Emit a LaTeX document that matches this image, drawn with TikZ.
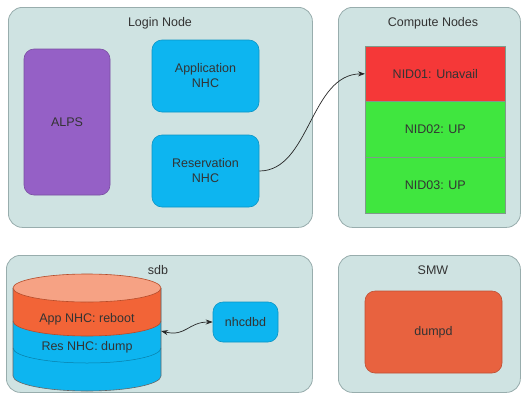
\documentclass[tikz,border=0pt]{standalone}
\usepackage{fontspec}
\setmainfont{Liberation Sans}
\usetikzlibrary{arrows.meta}
\definecolor{panel}{HTML}{CFE3E2}
\definecolor{panelline}{HTML}{98ADAD}
\definecolor{nhcblue}{HTML}{0DB5F0}
\definecolor{alpspurple}{HTML}{9560C6}
\definecolor{downred}{HTML}{F53838}
\definecolor{upgreen}{HTML}{40E63F}
\definecolor{dbtop}{HTML}{F6A284}
\definecolor{dbred}{HTML}{F26437}
\definecolor{dumporange}{HTML}{E8623F}
\definecolor{ink}{HTML}{333333}
\definecolor{cellline}{HTML}{7F9A8A}

\begin{document}
\begin{tikzpicture}[x=1pt,y=1pt,
  font=\fontsize{12.5}{15}\selectfont, text=ink,
  panelbox/.style={draw=panelline, fill=panel, rounded corners=14pt,
    line width=0.8pt, anchor=north west, inner sep=0pt},
  title/.style={inner sep=0pt, text=ink},
  block/.style={draw=#1!82!black, fill=#1, rounded corners=10pt,
    line width=0.6pt, align=center, inner sep=0pt},
  cell/.style={draw=cellline, fill=#1, line width=0.7pt, minimum width=140pt,
    inner sep=0pt, anchor=north west},
  link/.style={-{Stealth[length=7pt,width=5pt]}, line width=0.7pt, black!85},
  twoway/.style={{Stealth[length=7pt,width=5pt]}-{Stealth[length=7pt,width=5pt]},
    line width=0.7pt, black!85}
]
\useasboundingbox (0,0) rectangle (522,-394);
\fill[white] (0,0) rectangle (522,-394);

% panels
\node[panelbox, minimum width=304pt, minimum height=220pt] (login) at (8,-7) {};
\node[panelbox, minimum width=182pt, minimum height=220pt] (compute) at (338,-7) {};
\node[panelbox, minimum width=306pt, minimum height=137pt] (sdb) at (6,-255) {};
\node[panelbox, minimum width=182pt, minimum height=137pt] (smw) at (338,-255) {};

\node[title] (loginT) at (160,-23) {Login Node};
\node[title] (computeT) at (433,-23) {Compute Nodes};
\node[title] (sdbT) at (158,-270) {sdb};
\node[title] (smwT) at (433,-270) {SMW};

% login node contents
\node[block=alpspurple, minimum width=86pt, minimum height=146pt] (alps) at (67,-122) {ALPS};
\node[block=nhcblue, minimum width=107pt, minimum height=72pt] (appnhc) at (205.5,-76) {Application\\NHC};
\node[block=nhcblue, minimum width=107pt, minimum height=72pt] (resnhc) at (205.5,-171) {Reservation\\NHC};

% compute nodes
\node[cell=downred, minimum height=55pt] (nid1) at (365,-46) {NID01: Unavail};
\node[cell=upgreen, minimum height=56pt] (nid2) at (365,-101) {NID02: UP};
\node[cell=upgreen, minimum height=56pt] (nid3) at (365,-157) {NID03: UP};

% database cylinder
\fill[nhcblue] (13,-288) -- (13,-376)
  arc[start angle=180, end angle=360, x radius=74pt, y radius=15pt]
  -- (161,-288) -- cycle;
\fill[dbred] (13,-288) -- (13,-321)
  arc[start angle=180, end angle=360, x radius=74pt, y radius=15pt]
  -- (161,-288) -- cycle;
\draw[nhcblue!70!black, line width=0.5pt] (13,-348)
  arc[start angle=180, end angle=360, x radius=74pt, y radius=15pt];
\draw[dbred!75!black, line width=0.6pt] (13,-321)
  arc[start angle=180, end angle=360, x radius=74pt, y radius=15pt];
\draw[gray!80!black, line width=0.6pt] (13,-288) -- (13,-376)
  arc[start angle=180, end angle=360, x radius=74pt, y radius=15pt]
  -- (161,-288);
\draw[fill=dbtop, draw=dbred!75!black, line width=0.6pt] (87,-288)
  ellipse[x radius=74pt, y radius=14pt];
\node (appstate) at (87,-319) {App NHC: reboot};
\node (resstate) at (87,-347) {Res NHC: dump};
\coordinate (dbport) at (161,-331);

\node[block=nhcblue, minimum width=65pt, minimum height=40pt] (nhcdbd) at (245.5,-322) {nhcdbd};

% SMW
\node[block=dumporange, minimum width=137pt, minimum height=82pt] (dumpd) at (433.5,-332) {dumpd};

% connectors
\draw[link] (resnhc.east) .. controls (310,-171) and (310,-74) .. (nid1.west);
\draw[twoway] (dbport) .. controls (186,-337) and (188,-322) .. (nhcdbd.west);
\end{tikzpicture}
\end{document}
